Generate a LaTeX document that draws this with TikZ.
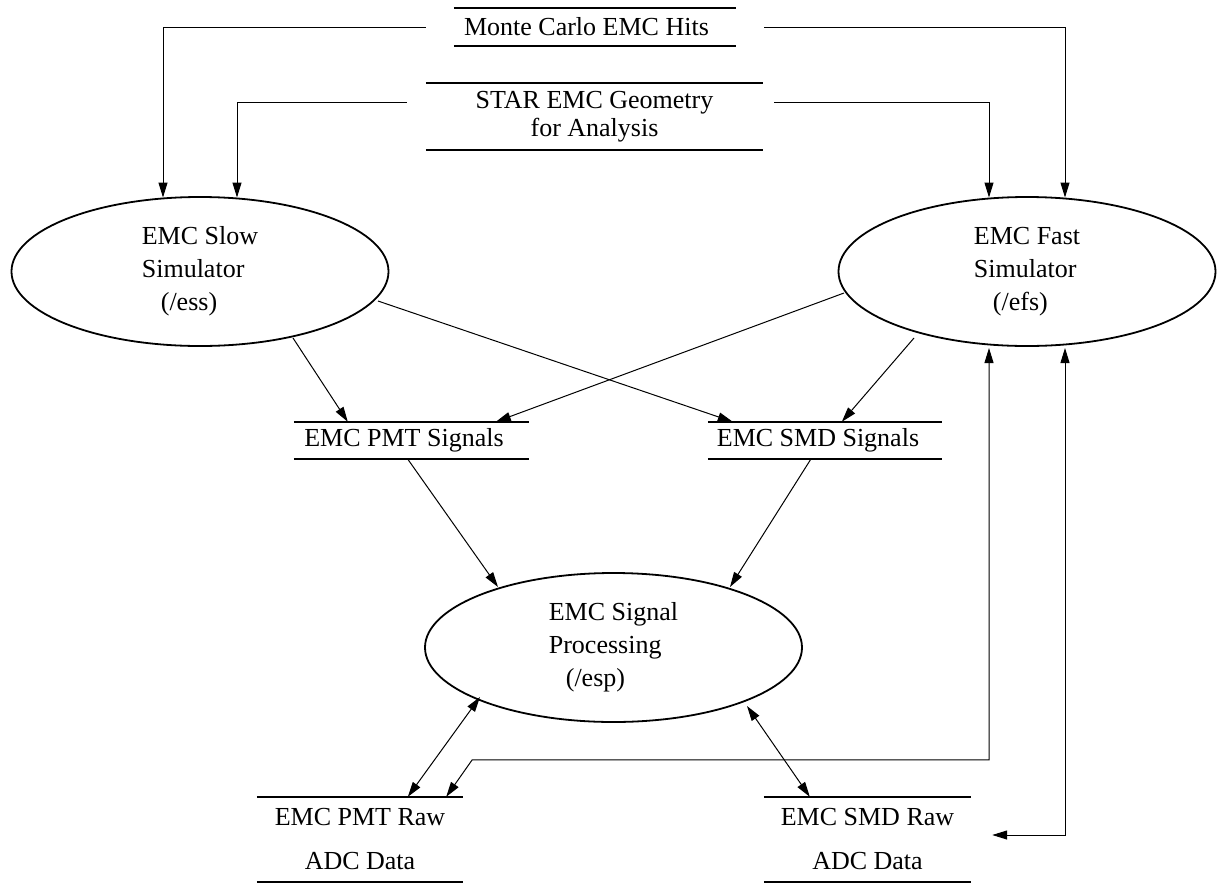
\documentclass[tikz,border=0pt]{standalone}
\usepackage{fontspec}
\setmainfont{Liberation Serif}
\usetikzlibrary{shapes.geometric,calc,arrows.meta}

\begin{document}
\begin{tikzpicture}[x=1pt,y=-1pt,
  txt/.style={font=\fontsize{26}{33}\selectfont},
  proc/.style={ellipse,draw,line width=1.8pt,minimum width=377pt,minimum height=149pt,
    inner sep=0pt,align=left,txt},
  store/.style={rectangle,inner sep=0pt,align=center,txt},
  rule/.style={line width=1.8pt},
  flow/.style={line width=1pt,-{Triangle[length=15pt,width=9pt]}},
  both/.style={line width=1pt,{Triangle[length=15pt,width=9pt]}-{Triangle[length=15pt,width=9pt]}}]

\useasboundingbox (0,0) rectangle (1219,884);

% data stores (drawn as a pair of horizontal rules)
\node[store,minimum width=282pt,minimum height=38pt] (mc) at (595,27)
  {\hspace*{-17pt}Monte Carlo EMC Hits};
\node[store,minimum width=337pt,minimum height=67pt,
  font=\fontsize{26}{28}\selectfont] (geo) at (594.5,116.5)
  {STAR EMC Geometry\\for Analysis};
\node[store,minimum width=235pt,minimum height=37pt] (pmt) at (411.5,440.5)
  {\hspace*{-15pt}EMC PMT Signals};
\node[store,minimum width=234pt,minimum height=37pt] (smd) at (825,440.5)
  {\hspace*{-14pt}EMC SMD Signals};
\node[store,minimum width=206pt,minimum height=85pt,
  font=\fontsize{26}{44}\selectfont] (pmtraw) at (360,839.5)
  {EMC PMT Raw\\ADC Data};
\node[store,minimum width=207pt,minimum height=85pt,
  font=\fontsize{26}{44}\selectfont] (smdraw) at (867.5,839.5)
  {EMC SMD Raw\\ADC Data};

\foreach \n in {mc,geo,pmt,smd,pmtraw,smdraw}
  \draw[rule] (\n.north west) -- (\n.north east) (\n.south west) -- (\n.south east);

% processes
\node[proc] (slow) at (200,271.5) {EMC Slow\\Simulator\\\hspace*{19pt}(/ess)};
\node[proc] (fast) at (1027,271.5) {EMC Fast\\Simulator\\\hspace*{19pt}(/efs)};
\node[proc] (esp) at (613.5,647.5) {EMC Signal\\Processing\\\hspace*{17pt}(/esp)};

% inputs to the simulators
\draw[flow] ($(mc.west)+(-28,0)$) -| ($(slow.center)+(-37,-74)$);
\draw[flow] ($(mc.east)+(28,0)$) -| ($(fast.center)+(38,-74)$);
\draw[flow] ($(geo.west)+(-19,-14.5)$) -| ($(slow.center)+(37,-74)$);
\draw[flow] ($(geo.east)+(11,-14.5)$) -| ($(fast.center)+(-38,-74)$);

% simulators to signals
\draw[flow] ($(slow.center)+(93,66.5)$) -- ($(pmt.north west)+(54,0)$);
\draw[flow] ($(slow.center)+(178,29.5)$) -- ($(smd.north west)+(25,0)$);
\draw[flow] ($(fast.center)+(-183,21.5)$) -- ($(pmt.north west)+(202,0)$);
\draw[flow] ($(fast.center)+(-113,66.5)$) -- ($(smd.north west)+(134,0)$);

% signals to signal processing
\draw[flow] ($(pmt.south west)+(114,0)$) -- ($(esp.center)+(-115.5,-60.5)$);
\draw[flow] ($(smd.south west)+(103,0)$) -- ($(esp.center)+(116.5,-60.5)$);

% raw ADC data exchange
\draw[both] ($(esp.center)+(-133.5,49.5)$) -- ($(pmtraw.north west)+(151,0)$);
\draw[both] ($(esp.center)+(133.5,58.5)$) -- ($(smdraw.north west)+(46,0)$);
\draw[both] ($(pmtraw.north east)+(-17,0)$) -- ($(pmtraw.north east)+(9,-37)$)
  -| ($(fast.center)+(-38,76.5)$);
\draw[both] ($(smdraw.east)+(21,-4.5)$) -| ($(fast.center)+(38,76.5)$);

\end{tikzpicture}
\end{document}
